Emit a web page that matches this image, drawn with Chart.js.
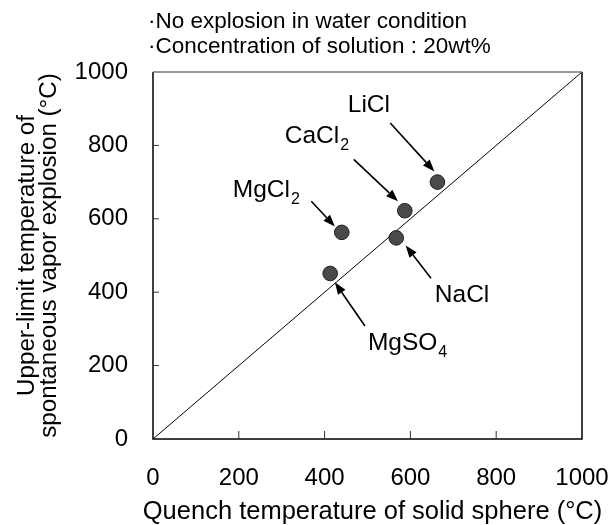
<!DOCTYPE html>
<html>
<head>
<meta charset="utf-8">
<script src="https://cdn.jsdelivr.net/npm/chart.js@4.4.1/dist/chart.umd.min.js"></script>
<style>
  html, body { margin: 0; padding: 0; background: #fff; }
  #wrap { width: 611px; height: 525px; position: relative; }
</style>
</head>
<body>
<div id="wrap"><canvas id="chart"></canvas></div>
<script>
// Quench temperature vs. upper-limit temperature of spontaneous vapor explosion

var FONT = "'Liberation Sans', Arial, sans-serif";

var xTickValues = [0, 200, 400, 600, 800, 1000];
var yTickValues = [0, 200, 400, 600, 800, 1000];

var saltNames  = ["LiCl", "CaCl2", "MgCl2", "NaCl", "MgSO4"];
var quenchTemp = [663, 587, 440, 567, 413];
var upperLimit = [700, 622, 563, 548, 451];

// reference line: no explosion in water (y = x)
var diagX = [0, 1000];
var diagY = [0, 1000];

// label text (main part + subscript) and anchor in data units
var labelMain = ["LiCl", "CaCl", "MgCl", "NaCl", "MgSO"];
var labelSub  = ["", "2", "2", "", "4"];
var labelX    = [454, 307, 186, 657, 501];
var labelY    = [891, 806, 659, 373, 242];

// arrows from label to point, data units
var arrowFromX = [553, 468, 369, 648, 494];
var arrowFromY = [861, 762, 648, 438, 308];
var arrowToX   = [656, 571, 424, 589, 424];
var arrowToY   = [729, 648, 579, 527, 427];

var xTitle = "Quench temperature of solid sphere (\u00B0C)";
var yTitle = ["Upper-limit temperature of", "spontaneous vapor explosion (\u00B0C)"];
var notes = ["\u00B7No explosion in water condition", "\u00B7Concentration of solution : 20wt%"];

function drawArrow(ctx, x1, y1, x2, y2) {
  var ang = Math.atan2(y2 - y1, x2 - x1);
  var len = 12, hw = 4.5;
  var bx = x2 - len * Math.cos(ang), by = y2 - len * Math.sin(ang);
  ctx.beginPath();
  ctx.moveTo(x1, y1);
  ctx.lineTo(bx, by);
  ctx.stroke();
  ctx.beginPath();
  ctx.moveTo(x2, y2);
  ctx.lineTo(bx + hw * Math.sin(ang), by - hw * Math.cos(ang));
  ctx.lineTo(bx - hw * Math.sin(ang), by + hw * Math.cos(ang));
  ctx.closePath();
  ctx.fill();
}

var decorPlugin = {
  id: "decor",
  afterDatasetsDraw: function(chart) {
    var ctx = chart.ctx, a = chart.chartArea;
    var xs = chart.scales.x, ys = chart.scales.y;
    ctx.save();

    // frame
    ctx.lineWidth = 1.5;
    ctx.strokeStyle = "#000";
    ctx.beginPath();
    ctx.moveTo(a.left, a.top);
    ctx.lineTo(a.left, a.bottom);
    ctx.lineTo(a.right, a.bottom);
    ctx.lineTo(a.right, a.top);
    ctx.stroke();
    ctx.strokeStyle = "#777";
    ctx.beginPath();
    ctx.moveTo(a.left, a.top);
    ctx.lineTo(a.right, a.top);
    ctx.stroke();

    // inward tick marks
    ctx.lineWidth = 1;
    ctx.strokeStyle = "#333";
    xs.ticks.forEach(function(t) {
      var px = xs.getPixelForValue(t.value);
      if (px <= a.left + 1 || px >= a.right - 1) return;
      ctx.beginPath();
      ctx.moveTo(px, a.bottom);
      ctx.lineTo(px, a.bottom - 8);
      ctx.stroke();
    });
    ys.ticks.forEach(function(t) {
      var py = ys.getPixelForValue(t.value);
      if (py >= a.bottom - 1 || py <= a.top + 1) return;
      ctx.beginPath();
      ctx.moveTo(a.left, py);
      ctx.lineTo(a.left + 6, py);
      ctx.stroke();
    });

    // arrows
    ctx.strokeStyle = "#000";
    ctx.fillStyle = "#000";
    ctx.lineWidth = 1.6;
    for (var i = 0; i < arrowFromX.length; i++) {
      drawArrow(ctx,
        xs.getPixelForValue(arrowFromX[i]), ys.getPixelForValue(arrowFromY[i]),
        xs.getPixelForValue(arrowToX[i]), ys.getPixelForValue(arrowToY[i]));
    }

    // labels with subscripts
    ctx.textAlign = "left";
    ctx.textBaseline = "alphabetic";
    for (var j = 0; j < labelMain.length; j++) {
      var lx = xs.getPixelForValue(labelX[j]);
      var ly = ys.getPixelForValue(labelY[j]);
      ctx.font = "24.5px " + FONT;
      ctx.fillText(labelMain[j], lx, ly);
      if (labelSub[j]) {
        var w = ctx.measureText(labelMain[j]).width;
        ctx.font = "16px " + FONT;
        ctx.fillText(labelSub[j], lx + w + 1, ly + 7);
      }
    }

    // notes above the plot
    ctx.font = "22.5px " + FONT;
    ctx.fillText(notes[0], 148, 28);
    ctx.fillText(notes[1], 148, 53);

    // x axis title (wider than the plot, so drawn without maxWidth)
    ctx.font = "25.5px " + FONT;
    ctx.textAlign = "center";
    ctx.fillText(xTitle, (a.left + a.right) / 2 + 5, 519);

    ctx.restore();
  }
};

new Chart(document.getElementById("chart"), {
  type: "scatter",
  data: {
    datasets: [
      {
        label: "y = x",
        type: "line",
        data: diagX.map(function(x, i) { return { x: x, y: diagY[i] }; }),
        borderColor: "#000",
        borderWidth: 1,
        pointRadius: 0,
        fill: false,
        order: 2
      },
      {
        label: "20wt% solution",
        data: quenchTemp.map(function(x, i) { return { x: x, y: upperLimit[i], name: saltNames[i] }; }),
        backgroundColor: "#4a4a4a",
        borderColor: "#1e1e1e",
        borderWidth: 1,
        pointRadius: 7.3,
        order: 1
      }
    ]
  },
  options: {
    responsive: true,
    maintainAspectRatio: false,
    animation: false,
    layout: { padding: { top: 72, right: 29, left: 0, bottom: 0 } },
    plugins: { legend: { display: false }, tooltip: { enabled: false } },
    scales: {
      x: {
        type: "linear",
        min: 0, max: 1000,
        afterBuildTicks: function(s) { s.ticks = xTickValues.map(function(v) { return { value: v }; }); },
        afterFit: function(s) { s.height = 86; s.paddingLeft = 0; s.paddingRight = 0; },
        grid: { display: false, drawTicks: false },
        border: { display: false },
        ticks: {
          color: "#000", padding: 25, maxRotation: 0,
          font: { family: FONT, size: 24 },
          callback: function(v) { return String(v); }
        },
        title: { display: false }
      },
      y: {
        type: "linear",
        min: 0, max: 1000,
        afterBuildTicks: function(s) { s.ticks = yTickValues.map(function(v) { return { value: v }; }); },
        afterFit: function(s) { s.width = 153; s.paddingTop = 0; s.paddingBottom = 0; },
        grid: { display: false, drawTicks: false },
        border: { display: false },
        ticks: {
          color: "#000", padding: 25,
          font: { family: FONT, size: 24 },
          callback: function(v) { return String(v); }
        },
        title: {
          display: true,
          text: yTitle,
          color: "#000",
          padding: { top: 17, bottom: 0 },
          font: { family: FONT, size: 24.2, lineHeight: 0.88 }
        }
      }
    }
  },
  plugins: [decorPlugin]
});
</script>
</body>
</html>
